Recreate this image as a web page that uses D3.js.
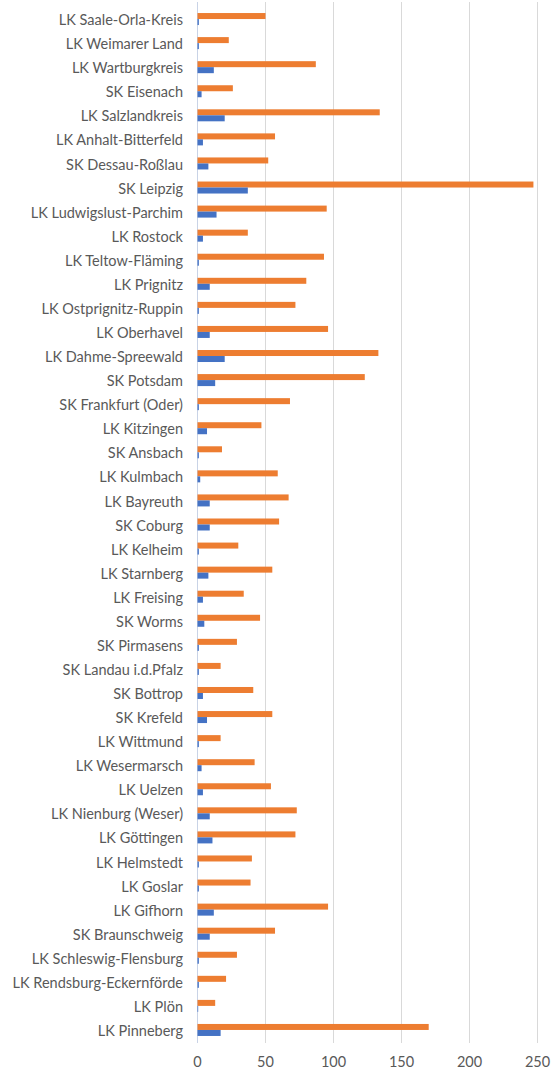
<!doctype html>
<html lang="de">
  <head>
    <meta charset="utf-8">
    <style>
    body { margin: 0; background: #fff; }
    .grid line { stroke: #d9d9d9; stroke-width: 1px; }
    .label { font-family: Lato, "Open Sans", sans-serif; font-size: 14.5px; fill: #595959; }
    </style>
    <title>Chart</title>
  </head>
  <body>
    <div id="content"></div>
    <script src="https://d3js.org/d3.v7.min.js"></script>
    <script type="text/javascript">
    var w = 552;
    var h = 1070;

    // districts, listed top to bottom as they appear
    var districts = [
      'LK Saale-Orla-Kreis', 'LK Weimarer Land', 'LK Wartburgkreis', 'SK Eisenach',
      'LK Salzlandkreis', 'LK Anhalt-Bitterfeld', 'SK Dessau-Roßlau', 'SK Leipzig',
      'LK Ludwigslust-Parchim', 'LK Rostock', 'LK Teltow-Fläming', 'LK Prignitz',
      'LK Ostprignitz-Ruppin', 'LK Oberhavel', 'LK Dahme-Spreewald', 'SK Potsdam',
      'SK Frankfurt (Oder)', 'LK Kitzingen', 'SK Ansbach', 'LK Kulmbach',
      'LK Bayreuth', 'SK Coburg', 'LK Kelheim', 'LK Starnberg',
      'LK Freising', 'SK Worms', 'SK Pirmasens', 'SK Landau i.d.Pfalz',
      'SK Bottrop', 'SK Krefeld', 'LK Wittmund', 'LK Wesermarsch',
      'LK Uelzen', 'LK Nienburg (Weser)', 'LK Göttingen', 'LK Helmstedt',
      'LK Goslar', 'LK Gifhorn', 'SK Braunschweig', 'LK Schleswig-Flensburg',
      'LK Rendsburg-Eckernförde', 'LK Plön', 'LK Pinneberg'
    ];

    // orange series
    var orangeValues = [
      50, 23, 87, 26,
      134, 57, 52, 247,
      95, 37, 93, 80,
      72, 96, 133, 123,
      68, 47, 18, 59,
      67, 60, 30, 55,
      34, 46, 29, 17,
      41, 55, 17, 42,
      54, 73, 72, 40,
      39, 96, 57, 29,
      21, 13, 170
    ];

    // blue series
    var blueValues = [
      1, 1, 12, 3,
      20, 4, 8, 37,
      14, 4, 1, 9,
      1, 9, 20, 13,
      1, 7, 1, 2,
      9, 9, 1, 8,
      4, 5, 1, 1,
      4, 7, 1, 3,
      4, 9, 11, 1,
      1, 12, 9, 1,
      1, 0.5, 17
    ];

    var xTicks = [0, 50, 100, 150, 200, 250];

    var svg = d3.select('#content')
                .append('svg')
                .attr('width', w)
                .attr('height', h);

    var xScale = d3.scaleLinear()
                   .domain([0, 250])
                   .range([197.5, 537.5]);

    var yScale = d3.scaleBand()
                   .domain(districts)
                   .range([8, 1043]);

    // orange on top, blue below within each row
    var sub = d3.scaleBand()
                .domain(['orange', 'blue'])
                .range([yScale.bandwidth() / 2 - 7, yScale.bandwidth() / 2 + 5]);

    // gridlines
    svg.append('g')
      .attr('class', 'grid')
      .selectAll('line')
      .data(xTicks.slice(1))
      .enter()
      .append('line')
      .attr('x1', d => xScale(d))
      .attr('x2', d => xScale(d))
      .attr('y1', 2)
      .attr('y2', 1043);

    // zero axis line
    svg.append('line')
      .attr('x1', xScale(0))
      .attr('x2', xScale(0))
      .attr('y1', 2)
      .attr('y2', 1043)
      .style('stroke', '#c9d3e6')
      .style('stroke-width', '1px');

    var rows = svg.selectAll('.row')
                  .data(districts)
                  .enter()
                  .append('g')
                  .attr('class', 'row')
                  .attr('transform', d => `translate(0, ${yScale(d)})`);

    rows.append('rect')
      .attr('x', xScale(0))
      .attr('y', sub('orange'))
      .attr('width', (d, i) => xScale(orangeValues[i]) - xScale(0))
      .attr('height', sub.bandwidth())
      .attr('fill', '#ed7d31');

    rows.append('rect')
      .attr('x', xScale(0))
      .attr('y', sub('blue'))
      .attr('width', (d, i) => xScale(blueValues[i]) - xScale(0))
      .attr('height', sub.bandwidth())
      .attr('fill', '#4472c4');

    // category labels
    rows.append('text')
      .attr('class', 'label')
      .attr('x', 183)
      .attr('y', yScale.bandwidth() / 2)
      .attr('dy', '0.35em')
      .attr('text-anchor', 'end')
      .text(d => d);

    // x axis tick labels
    svg.append('g')
      .selectAll('text')
      .data(xTicks)
      .enter()
      .append('text')
      .attr('class', 'label')
      .attr('x', d => xScale(d))
      .attr('y', 1062)
      .attr('dy', '0.35em')
      .attr('text-anchor', 'middle')
      .text(d => d);
    </script>
  </body>
</html>
